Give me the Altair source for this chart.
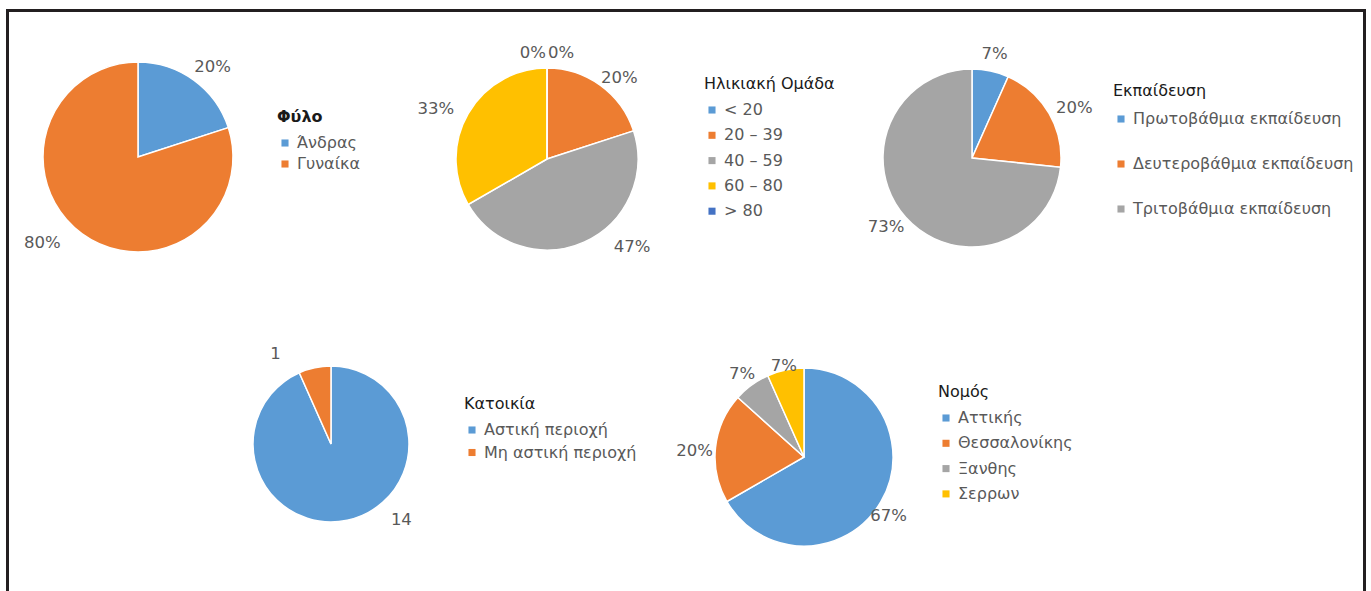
import altair as alt
import pandas as pd

FONT = "DejaVu Sans"
LABEL_GREY = "#595959"

BLUE, ORANGE, GREY, YELLOW, DARKBLUE = "#5B9BD5", "#ED7D31", "#A5A5A5", "#FFC000", "#4472C4"

# ---- data ----
sex_cats = ["Άνδρας", "Γυναίκα"]
sex_vals = [3, 12]

age_cats = ["< 20", "20 – 39", "40 – 59", "60 – 80", "> 80"]
age_vals = [0, 3, 7, 5, 0]

edu_cats = ["Πρωτοβάθμια εκπαίδευση", "Δευτεροβάθμια εκπαίδευση", "Τριτοβάθμια εκπαίδευση"]
edu_vals = [1, 3, 11]

res_cats = ["Αστική περιοχή", "Μη αστική περιοχή"]
res_vals = [14, 1]

pref_cats = ["Αττικής", "Θεσσαλονίκης", "Ξανθης", "Σερρων"]
pref_vals = [10, 3, 1, 1]


def make_df(cats, vals, percent=True):
    total = sum(vals)
    labels = [f"{round(v / total * 100)}%" if percent else str(v) for v in vals]
    return pd.DataFrame({"cat": cats, "value": vals, "ord": list(range(len(cats))), "label": labels})


def pie(cats, vals, colors, title, cx, cy, r, lr, lx, ly, row_pad, title_pad=10,
        percent=True, title_weight="normal", zero_labels=False, nudges=None):
    nudges = nudges or {}
    df = make_df(cats, vals, percent)
    base = alt.Chart(df).encode(
        theta=alt.Theta("value:Q", stack=True),
        order=alt.Order("ord:Q"),
        detail="cat:N",
        x=alt.value(cx),
        y=alt.value(cy),
    )
    arc = base.mark_arc(radius=r, stroke="white", strokeWidth=1.5).encode(
        color=alt.Color(
            "cat:N",
            sort=cats,
            scale=alt.Scale(domain=cats, range=colors),
            legend=alt.Legend(
                title=title,
                orient="none",
                legendX=lx,
                legendY=ly,
                direction="vertical",
                symbolType="square",
                symbolSize=50,
                symbolStrokeWidth=0,
                labelFont=FONT,
                labelFontSize=16,
                labelColor=LABEL_GREY,
                labelOffset=4,
                labelLimit=400,
                titleFont=FONT,
                titleFontSize=16,
                titleFontWeight=title_weight,
                titleColor="#1a1a1a",
                titlePadding=title_pad,
                titleLimit=400,
                rowPadding=row_pad,
                padding=0,
            ),
        )
    )
    txt_kw = dict(radius=lr, font=FONT, fontSize=16.5, color=LABEL_GREY, baseline="middle")

    def show_if(pred, **kw):
        # every row stays in the layer (so the stack is intact); only matching rows get text
        return base.mark_text(**kw).encode(
            text=alt.condition(pred, alt.Text("label:N"), alt.value(""))
        )

    plain = alt.datum.value > 0
    for c in nudges:
        plain = plain & (alt.datum.cat != c)
    layers = [arc, show_if(plain, **txt_kw)]
    for c, (ddx, ddy) in nudges.items():
        layers.append(show_if(alt.datum.cat == c, dx=ddx, dy=ddy, **txt_kw))
    if zero_labels:
        zkw = dict(txt_kw)
        zkw["radius"] = r + 15
        layers.append(show_if(alt.datum.cat == cats[0], align="left", dx=1, **zkw))
        layers.append(show_if(alt.datum.cat == cats[-1], align="right", dx=-1, **zkw))
    return alt.layer(*layers)


# view origin sits at page (7.5, 10.5)
p1 = pie(sex_cats, sex_vals, [BLUE, ORANGE], "Φύλο", 130.5, 146.5, 95, 115,
         269.5, 98.5, 5, title_weight="bold",
         nudges={"Άνδρας": (7, 3), "Γυναίκα": (-28, -7)})
p2 = pie(age_cats, age_vals, [BLUE, ORANGE, GREY, YELLOW, DARKBLUE], "Ηλικιακή Ομάδα",
         539.5, 148.5, 91, 111, 696.5, 65.5, 9.3, zero_labels=True,
         nudges={"20 – 39": (7, 9), "40 – 59": (40, -13), "60 – 80": (-15, 5)})
p3 = pie(edu_cats, edu_vals, [BLUE, ORANGE, GREY], "Εκπαίδευση", 964.5, 147.5, 89, 109,
         1105.5, 72.5, 29, title_pad=12,
         nudges={"Πρωτοβάθμια εκπαίδευση": (0, 3), "Δευτεροβάθμια εκπαίδευση": (8, 4),
                 "Τριτοβάθμια εκπαίδευση": (-5, -4)})
p4 = pie(res_cats, res_vals, [BLUE, ORANGE], "Κατοικία", 323.5, 433.5, 78, 98,
         456.5, 385.5, 6.5, percent=False,
         nudges={"Αστική περιοχή": (50, -20), "Μη αστική περιοχή": (-35, 6)})
p5 = pie(pref_cats, pref_vals, [BLUE, ORANGE, GREY, YELLOW], "Νομός", 796.5, 446.5, 89, 107,
         930.5, 373.5, 9.3,
         nudges={"Αττικής": (-8, 5), "Θεσσαλονίκης": (-3, 5), "Ξανθης": (1, 4),
                 "Σερρων": (2, 14)})

chart = (
    alt.layer(p1, p2, p3, p4, p5)
    .resolve_scale(theta="independent", color="independent")
    .properties(
        width=1357,
        height=583,
        padding={"left": 7.5, "top": 10.5, "right": 6.5, "bottom": -2.5},
        autosize=alt.AutoSizeParams(type="none"),
        background="white",
    )
    .configure_view(stroke="#231f20", strokeWidth=3)
    .configure_text(font=FONT)
)

chart.save("out.html", embed_options={"renderer": "svg", "actions": False})
